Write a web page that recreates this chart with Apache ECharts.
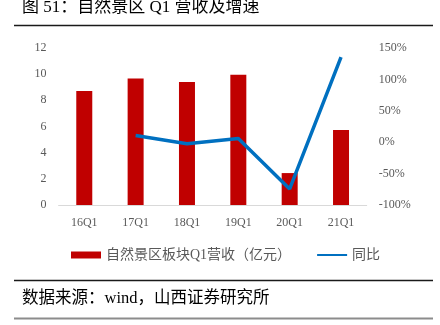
<!DOCTYPE html>
<html>
<head>
<meta charset="utf-8">
<script src="https://cdn.jsdelivr.net/npm/echarts@6/dist/echarts.min.js"></script>
<style>
  html, body { margin: 0; padding: 0; background: #fff; }
  #chart { width: 440px; height: 325px; }
</style>
</head>
<body>
<div id="chart"></div>
<script>
// Quarters on the category axis
const quarters = ['16Q1', '17Q1', '18Q1', '19Q1', '20Q1', '21Q1'];
// Q1 revenue of the scenic-area segment, 100 million yuan
const revenue = [8.72, 9.67, 9.41, 9.95, 2.44, 5.74];
// Year-on-year growth, percent (no prior year for 16Q1)
const growth = [null, 10.8, -2.4, 5.9, -74.5, 135.5];

const serif = '"Liberation Serif", "Noto Sans CJK SC", serif';
const grey = '#595959';

const chart = echarts.init(document.getElementById('chart'), null, { renderer: 'canvas' });
chart.setOption({
  animation: false,
  backgroundColor: '#ffffff',
  graphic: [
    { type: 'text', left: 22, top: -1,
      style: { text: '图 51：自然景区 Q1 营收及增速', font: '17px ' + serif, fill: '#000' } },
    { type: 'line', shape: { x1: 14, y1: 25.5, x2: 433, y2: 25.5 },
      style: { stroke: '#1a1a1a', lineWidth: 1.5 } },
    { type: 'line', shape: { x1: 14, y1: 280.5, x2: 433, y2: 280.5 },
      style: { stroke: '#1a1a1a', lineWidth: 1.5 } },
    { type: 'text', left: 22, top: 290,
      style: { text: '数据来源：wind，山西证券研究所', font: '16.5px ' + serif, fill: '#000' } },
    { type: 'line', shape: { x1: 14, y1: 318.5, x2: 433, y2: 318.5 },
      style: { stroke: '#8c8c8c', lineWidth: 2 } }
  ],
  legend: {
    left: 66, top: 243,
    itemWidth: 30, itemHeight: 7, itemGap: 25,
    textStyle: { fontFamily: serif, fontSize: 14, color: grey },
    data: [
      { name: '自然景区板块Q1营收（亿元）', icon: 'rect' },
      { name: '同比', itemStyle: { opacity: 0 } }
    ]
  },
  grid: { left: 58.6, right: 73.3, top: 48, bottom: 120 },
  xAxis: {
    type: 'category',
    data: quarters,
    axisLine: { lineStyle: { color: '#d9d9d9', width: 1 } },
    axisTick: { show: false },
    axisLabel: { fontFamily: serif, fontSize: 12, color: grey, margin: 12 }
  },
  yAxis: [
    { type: 'value', min: 0, max: 12, interval: 2,
      axisLine: { show: false }, axisTick: { show: false }, splitLine: { show: false },
      axisLabel: { fontFamily: serif, fontSize: 12, color: grey, margin: 12 } },
    { type: 'value', min: -100, max: 150, interval: 50, position: 'right',
      axisLine: { show: false }, axisTick: { show: false }, splitLine: { show: false },
      axisLabel: { fontFamily: serif, fontSize: 12, color: grey, margin: 12, formatter: '{value}%' } }
  ],
  series: [
    { name: '自然景区板块Q1营收（亿元）', type: 'bar', data: revenue, barWidth: 16,
      itemStyle: { color: '#c00000' } },
    { name: '同比', type: 'line', yAxisIndex: 1, data: growth,
      showSymbol: false, symbol: 'none', connectNulls: false,
      lineStyle: { color: '#0070c0', width: 3.5 }, itemStyle: { color: '#0070c0' } }
  ]
});
</script>
</body>
</html>
